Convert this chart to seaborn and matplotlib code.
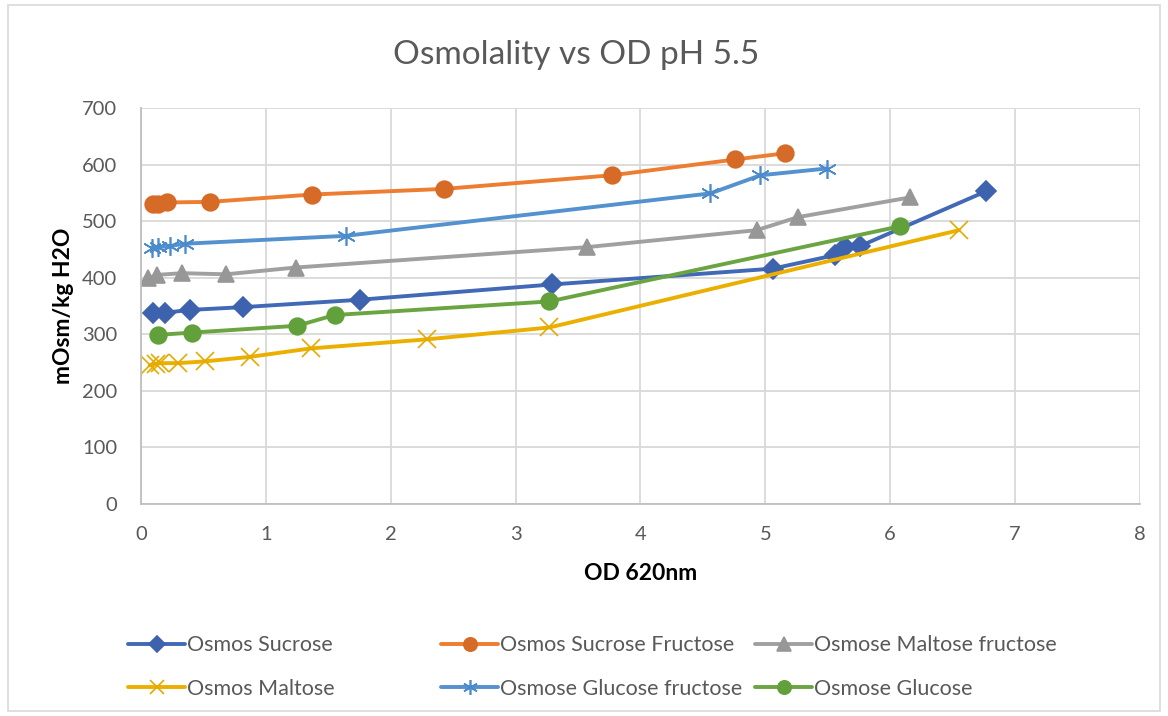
import numpy as np
import pandas as pd
import matplotlib
matplotlib.use("Agg")
import matplotlib.pyplot as plt
import seaborn as sns
from matplotlib.patches import Rectangle

# values
sucrose_x = [0.10, 0.19, 0.39, 0.82, 1.75, 3.29, 5.06, 5.56, 5.64, 5.76, 6.77]
sucrose_y = [337, 338, 343, 348, 361, 388, 416, 440, 455, 456, 553]

sucfruc_x = [0.10, 0.14, 0.21, 0.55, 1.37, 2.43, 3.77, 4.76, 5.16]
sucfruc_y = [530, 531, 533, 534, 547, 557, 581, 609, 620]

malfruc_x = [0.06, 0.13, 0.33, 0.68, 1.24, 3.57, 4.93, 5.26, 6.16]
malfruc_y = [399, 405, 408, 406, 418, 454, 484, 507, 542]

maltose_x = [0.07, 0.12, 0.15, 0.30, 0.51, 0.87, 1.36, 2.29, 3.27, 6.55]
maltose_y = [245, 248, 249, 249, 252, 260, 275, 291, 312, 484]

glufruc_x = [0.09, 0.14, 0.23, 0.35, 1.64, 4.56, 4.96, 5.49]
glufruc_y = [452, 454, 456, 460, 474, 549, 581, 593]

glucose_x = [0.14, 0.41, 1.25, 1.55, 3.27, 6.08]
glucose_y = [299, 303, 315, 334, 358, 491]

names = ["Osmos Sucrose", "Osmos Sucrose Fructose", "Osmose Maltose fructose",
         "Osmos Maltose", "Osmose Glucose fructose", "Osmose Glucose"]
xs = [sucrose_x, sucfruc_x, malfruc_x, maltose_x, glufruc_x, glucose_x]
ys = [sucrose_y, sucfruc_y, malfruc_y, maltose_y, glufruc_y, glucose_y]

line_colors = ["#4169B5", "#ED7D31", "#A0A0A0", "#EBAF00", "#5491CF", "#6AA541"]
marker_colors = ["#3D62AE", "#D66B27", "#979797", "#E5AA00", "#4C8BCB", "#62A03C"]
markers = ["D", "o", "^", "x", (6, 2, 0), "o"]
msizes = [10, 12, 12, 12.5, 13.5, 12]

sns.set_style("white")
plt.rcParams["font.family"] = ["Lato", "DejaVu Sans"]

fig = plt.figure(figsize=(11.68, 7.16), dpi=100)
ax = fig.add_axes([0.1207, 0.2961, 0.8553, 0.5531])

for i in range(len(names)):
    df = pd.DataFrame({"x": xs[i], "y": ys[i]})
    sns.lineplot(data=df, x="x", y="y", ax=ax, sort=False, estimator=None,
                 color=line_colors[i], linewidth=2.8, marker=markers[i],
                 markersize=msizes[i], markerfacecolor=marker_colors[i],
                 markeredgecolor=marker_colors[i], markeredgewidth=1.2,
                 label=names[i])

ax.set_xlim(0, 8)
ax.set_ylim(0, 700)
ax.set_xticks(range(0, 9))
ax.set_yticks(range(0, 701, 100))
ax.grid(True, color="#D9D9D9", linewidth=1.3)
ax.set_axisbelow(True)
for s in ["top", "right"]:
    ax.spines[s].set_visible(False)
for s in ["left", "bottom"]:
    ax.spines[s].set_color("#BFBFBF")
    ax.spines[s].set_linewidth(1.3)
ax.tick_params(axis="both", length=0, labelsize=14.5, labelcolor="#595959")
ax.tick_params(axis="x", pad=16)
ax.tick_params(axis="y", pad=17)

ax.set_xlabel("OD 620nm", fontsize=16.5, fontweight="bold", color="black", labelpad=14)
ax.set_ylabel("mOsm/kg H2O", fontsize=16.5, fontweight="bold", color="black", labelpad=6)
fig.text(0.493, 0.923, "Osmolality vs OD pH 5.5", ha="center", va="center",
         fontsize=24, color="#595959")

# legend: one legend per column so the columns sit at fixed positions like the reference
handles, labels = ax.get_legend_handles_labels()
if ax.get_legend():
    ax.get_legend().remove()
col_x = [128 / 1168, 441 / 1168, 755 / 1168]
cols = [[0, 3], [1, 4], [2, 5]]
for c in range(3):
    leg = fig.legend([handles[k] for k in cols[c]], [labels[k] for k in cols[c]],
                     loc="center left", bbox_to_anchor=(col_x[c], 1 - 667 / 716),
                     frameon=False, fontsize=15.5, handlelength=2.65, handletextpad=0.1,
                     labelspacing=1.1, borderpad=0, borderaxespad=0, markerscale=0.8)
    for t in leg.get_texts():
        t.set_color("#595959")

fig.patches.append(Rectangle((8 / 1168, 5 / 716), 1152 / 1168, 706 / 716,
                             transform=fig.transFigure, fill=False,
                             edgecolor="#D9D9D9", linewidth=1.2))

fig.savefig("out.png", dpi=100)
